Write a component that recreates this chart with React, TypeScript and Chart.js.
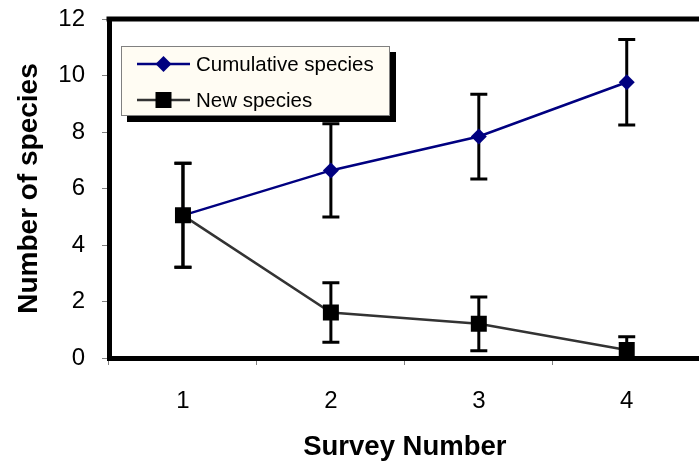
import React, { useEffect, useRef } from "react";
import { Chart, registerables } from "chart.js";

Chart.register(...registerables);

const surveys = ["1", "2", "3", "4"];
const cumulative = [5.05, 6.64, 7.84, 9.76];
const cumulativeErr = [1.84, 1.65, 1.5, 1.51];
const newSpecies = [5.05, 1.61, 1.21, 0.28];
const newSpeciesErr = [1.84, 1.05, 0.95, 0.47];
const yMin = 0;
const yMax = 12;
const yStep = 2;

const FONT = "'Liberation Sans', Arial, Helvetica, sans-serif";

const errorBarPlugin = {
  id: "errorBars",
  beforeDatasetsDraw(chart: any) {
    const ctx = chart.ctx;
    const y = chart.scales.y;
    const area = chart.chartArea;
    ctx.save();
    ctx.beginPath();
    ctx.rect(area.left, area.top, area.right - area.left, area.bottom - area.top);
    ctx.clip();
    ctx.strokeStyle = "#000000";
    ctx.lineWidth = 3;
    chart.data.datasets.forEach((ds: any, di: number) => {
      const meta = chart.getDatasetMeta(di);
      const errs: number[] = ds.errors || [];
      meta.data.forEach((pt: any, i: number) => {
        const v = ds.data[i];
        const e = errs[i];
        if (e == null) return;
        const x = pt.x;
        const yTop = y.getPixelForValue(v + e);
        const yBot = y.getPixelForValue(v - e);
        const half = 8.5;
        ctx.beginPath();
        ctx.moveTo(x, yTop);
        ctx.lineTo(x, yBot);
        ctx.moveTo(x - half, yTop);
        ctx.lineTo(x + half, yTop);
        ctx.moveTo(x - half, yBot);
        ctx.lineTo(x + half, yBot);
        ctx.stroke();
      });
    });
    ctx.restore();
  },
};

const framePlugin = {
  id: "frame",
  afterDatasetsDraw(chart: any) {
    const ctx = chart.ctx;
    const a = chart.chartArea;
    ctx.save();
    ctx.strokeStyle = "#000000";
    ctx.lineWidth = 5;
    ctx.beginPath();
    ctx.moveTo(a.left - 2.5, a.top);
    ctx.lineTo(chart.width, a.top);
    ctx.stroke();
    ctx.restore();
  },
};

const legendPlugin = {
  id: "customLegend",
  afterDraw(chart: any) {
    const ctx = chart.ctx;
    const bx = 121;
    const by = 46;
    const bw = 268;
    const bh = 69;
    ctx.save();
    ctx.fillStyle = "#000000";
    ctx.fillRect(bx + 6, by + 6, bw + 1, bh + 1);
    ctx.fillStyle = "#FFFCF3";
    ctx.fillRect(bx, by, bw, bh);
    ctx.strokeStyle = "#808080";
    ctx.lineWidth = 1;
    ctx.strokeRect(bx + 0.5, by + 0.5, bw, bh);
    const rows = [0, 1];
    rows.forEach((di, r) => {
      const ds = chart.data.datasets[di];
      const cy = 64 + r * 36;
      ctx.strokeStyle = ds.borderColor;
      ctx.lineWidth = ds.borderWidth;
      ctx.beginPath();
      ctx.moveTo(137, cy);
      ctx.lineTo(190, cy);
      ctx.stroke();
      ctx.fillStyle = ds.pointBackgroundColor;
      const mx = 163.5;
      if (ds.pointStyle === "rectRot") {
        const rr = 8;
        ctx.beginPath();
        ctx.moveTo(mx, cy - rr);
        ctx.lineTo(mx + rr, cy);
        ctx.lineTo(mx, cy + rr);
        ctx.lineTo(mx - rr, cy);
        ctx.closePath();
        ctx.fill();
      } else {
        ctx.fillRect(mx - 8, cy - 8, 16, 16);
      }
      ctx.fillStyle = "#000000";
      ctx.font = `20.5px ${FONT}`;
      ctx.textBaseline = "middle";
      ctx.textAlign = "left";
      ctx.fillText(ds.label, 196, cy + 1);
    });
    ctx.restore();
  },
};

export default function App() {
  const ref = useRef<HTMLCanvasElement | null>(null);

  useEffect(() => {
    if (!ref.current) return;
    const chart = new Chart(ref.current, {
      type: "line",
      data: {
        labels: surveys,
        datasets: [
          {
            label: "Cumulative species",
            data: cumulative,
            errors: cumulativeErr,
            borderColor: "#000080",
            backgroundColor: "#000080",
            borderWidth: 2.5,
            pointStyle: "rectRot",
            pointRadius: 8,
            pointBackgroundColor: "#000080",
            pointBorderColor: "#000080",
            pointBorderWidth: 0,
            tension: 0,
            order: 1,
          } as any,
          {
            label: "New species",
            data: newSpecies,
            errors: newSpeciesErr,
            borderColor: "#333333",
            backgroundColor: "#000000",
            borderWidth: 2.5,
            pointStyle: "rect",
            pointRadius: 11.3,
            pointBackgroundColor: "#000000",
            pointBorderColor: "#000000",
            pointBorderWidth: 0,
            tension: 0,
            order: 0,
          } as any,
        ],
      },
      options: {
        responsive: false,
        animation: false,
        events: [],
        layout: { padding: { top: 19, right: 11, left: 0, bottom: 0 } },
        plugins: {
          legend: { display: false },
          tooltip: { enabled: false },
        },
        scales: {
          x: {
            type: "category",
            offset: true,
            afterFit: (s: any) => {
              s.height = 106;
              s.paddingLeft = 0;
              s.paddingRight = 0;
            },
            grid: {
              display: true,
              offset: true,
              drawOnChartArea: false,
              drawTicks: true,
              tickLength: 7,
              color: "#808080",
              lineWidth: 1,
            },
            border: { display: true, color: "#000000", width: 5 },
            ticks: {
              color: "#000000",
              padding: 22,
              font: { family: FONT, size: 24 },
              maxRotation: 0,
            },
            title: {
              display: true,
              text: "Survey Number",
              color: "#000000",
              font: { family: FONT, size: 27.5, weight: "bold" },
              padding: { top: 0, bottom: 0 },
            },
          },
          y: {
            type: "linear",
            min: yMin,
            max: yMax,
            afterFit: (s: any) => {
              s.width = 109;
              s.paddingTop = 0;
              s.paddingBottom = 0;
            },
            grid: {
              display: true,
              drawOnChartArea: false,
              drawTicks: true,
              tickLength: 7,
              color: "#808080",
              lineWidth: 1,
            },
            border: { display: true, color: "#000000", width: 5 },
            ticks: {
              stepSize: yStep,
              color: "#000000",
              padding: 17,
              font: { family: FONT, size: 24 },
            },
            title: {
              display: true,
              text: "Number of species",
              color: "#000000",
              font: { family: FONT, size: 28, weight: "bold" },
              padding: { top: 12, bottom: 0 },
            },
          },
        },
      } as any,
      plugins: [errorBarPlugin, framePlugin, legendPlugin],
    });
    return () => chart.destroy();
  }, []);

  return (
    <div
      style={{
        position: "absolute",
        left: 0,
        top: 0,
        width: 699,
        height: 464,
        overflow: "hidden",
        background: "#ffffff",
      }}
    >
      <canvas ref={ref} width={712} height={464} style={{ display: "block", width: 712, height: 464 }} />
    </div>
  );
}
